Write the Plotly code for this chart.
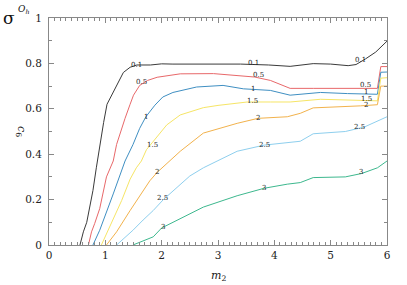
import plotly.graph_objects as go

# contour levels and their colours
levels = ["0.1", "0.5", "1", "1.5", "2", "2.5", "3"]
colors = ["#3a3a3a", "#e8686a", "#3f8fc2", "#f6e566", "#f2b24c", "#8ecfee", "#3db88e"]

# (m2, c6) points per contour
m2_01 = [0.55, 0.61, 0.67, 0.70, 0.78, 0.84, 0.90, 0.97, 1.03, 1.08, 1.20, 1.32, 1.44, 1.56, 1.80, 2.00, 2.20, 2.60, 3.00, 3.40, 3.90, 4.28, 4.69, 5.00, 5.31, 5.45, 5.62, 5.80, 6.00]
c6_01 = [0.00, 0.058, 0.10, 0.14, 0.24, 0.34, 0.44, 0.54, 0.62, 0.645, 0.70, 0.76, 0.783, 0.793, 0.793, 0.798, 0.797, 0.797, 0.797, 0.797, 0.793, 0.787, 0.799, 0.797, 0.790, 0.795, 0.820, 0.850, 0.898]

m2_05 = [0.70, 0.755, 0.81, 0.90, 1.02, 1.14, 1.20, 1.26, 1.35, 1.44, 1.50, 1.61, 1.75, 1.92, 2.33, 2.92, 3.39, 3.65, 3.93, 4.28, 4.70, 5.20, 5.53, 5.83, 5.89, 6.00]
c6_05 = [0.00, 0.058, 0.094, 0.16, 0.30, 0.37, 0.443, 0.49, 0.558, 0.62, 0.66, 0.703, 0.725, 0.739, 0.754, 0.755, 0.747, 0.740, 0.725, 0.690, 0.690, 0.690, 0.690, 0.690, 0.786, 0.786]

m2_1 = [0.78, 0.90, 1.14, 1.35, 1.49, 1.61, 1.72, 1.88, 2.02, 2.20, 2.62, 3.09, 3.45, 3.93, 4.28, 4.82, 5.30, 5.83, 5.89, 6.00]
c6_1 = [0.00, 0.065, 0.225, 0.37, 0.442, 0.514, 0.565, 0.616, 0.652, 0.672, 0.696, 0.703, 0.688, 0.681, 0.660, 0.672, 0.667, 0.664, 0.761, 0.762]

m2_15 = [0.93, 1.08, 1.29, 1.44, 1.55, 1.64, 1.73, 1.83, 2.09, 2.33, 2.74, 3.00, 3.34, 3.52, 3.93, 4.28, 4.82, 5.30, 5.83, 5.89, 6.00]
c6_15 = [0.00, 0.08, 0.196, 0.29, 0.34, 0.37, 0.42, 0.45, 0.529, 0.573, 0.605, 0.615, 0.623, 0.630, 0.630, 0.630, 0.642, 0.640, 0.635, 0.735, 0.737]

m2_2 = [1.02, 1.20, 1.44, 1.79, 1.92, 2.10, 2.33, 2.74, 3.34, 3.71, 4.23, 4.46, 4.69, 5.53, 5.83, 5.89, 6.00]
c6_2 = [0.00, 0.058, 0.152, 0.283, 0.32, 0.36, 0.413, 0.493, 0.536, 0.558, 0.565, 0.580, 0.604, 0.613, 0.618, 0.700, 0.700]

m2_25 = [1.20, 1.49, 1.67, 1.85, 2.03, 2.33, 2.50, 2.74, 3.34, 3.82, 4.23, 4.46, 4.69, 5.26, 5.60, 6.00]
c6_25 = [0.00, 0.065, 0.11, 0.152, 0.20, 0.268, 0.304, 0.34, 0.413, 0.44, 0.449, 0.457, 0.490, 0.500, 0.520, 0.565]

m2_3 = [1.49, 1.85, 2.00, 2.15, 2.50, 2.74, 3.34, 3.82, 4.23, 4.46, 4.69, 5.26, 5.55, 5.83, 6.00]
c6_3 = [0.00, 0.036, 0.075, 0.094, 0.138, 0.167, 0.217, 0.25, 0.268, 0.275, 0.297, 0.300, 0.315, 0.340, 0.370]

xs = [m2_01, m2_05, m2_1, m2_15, m2_2, m2_25, m2_3]
ys = [c6_01, c6_05, c6_1, c6_15, c6_2, c6_25, c6_3]

# contour label positions
lab_text = ["0.1", "0.1", "0.1", "0.5", "0.5", "0.5", "1", "1", "1", "1.5", "1.5", "1.5", "2", "2", "2", "2.5", "2.5", "2.5", "3", "3", "3"]
lab_x = [1.56, 3.63, 5.53, 1.65, 3.71, 5.62, 1.72, 3.62, 5.63, 1.83, 3.62, 5.63, 1.92, 3.71, 5.62, 2.02, 3.82, 5.52, 2.02, 3.82, 5.53]
lab_y = [0.795, 0.800, 0.813, 0.720, 0.749, 0.705, 0.565, 0.688, 0.672, 0.440, 0.633, 0.645, 0.320, 0.558, 0.618, 0.205, 0.440, 0.520, 0.080, 0.250, 0.323]

x_ticks = [0, 1, 2, 3, 4, 5, 6]
y_ticks = [0, 0.2, 0.4, 0.6, 0.8, 1]
y_tick_text = ["0", "0.2", "0.4", "0.6", "0.8", "1"]

serif = "DejaVu Serif"

fig = go.Figure()
for lv, col, x, y in zip(levels, colors, xs, ys):
    fig.add_trace(go.Scatter(x=x, y=y, mode="lines", line=dict(color=col, width=1), name=lv, showlegend=False, hoverinfo="skip"))

for t, x, y in zip(lab_text, lab_x, lab_y):
    fig.add_annotation(x=x, y=y, text=t, showarrow=False, xanchor="center", yanchor="middle",
                       font=dict(family=serif, size=7, color="#222"))

axis_common = dict(showline=True, linecolor="#888", linewidth=1, mirror="allticks",
                   ticks="inside", ticklen=5, tickcolor="#888", tickwidth=1,
                   showgrid=False, zeroline=False,
                   tickfont=dict(family=serif, size=10.5, color="#222"))

fig.update_xaxes(range=[0, 6], tickvals=x_ticks, ticktext=[str(v) for v in x_ticks],
                 minor=dict(ticks="inside", ticklen=3, dtick=0.1, tickcolor="#888", showgrid=False),
                 **axis_common)
fig.update_yaxes(range=[0, 1], tickvals=y_ticks, ticktext=y_tick_text, ticklabelstandoff=4,
                 minor=dict(ticks="inside", ticklen=3, dtick=0.1, tickcolor="#888", showgrid=False),
                 **axis_common)

# axis titles
fig.add_annotation(xref="paper", yref="paper", x=0.5, y=-0.095, text="<i>m</i><sub>2</sub>", showarrow=False,
                   xanchor="center", yanchor="top", font=dict(family=serif, size=11, color="#222"))
fig.add_annotation(xref="paper", yref="paper", x=-0.055, y=0.5, text="<i>c</i><sub>6</sub>", showarrow=False,
                   textangle=90, xanchor="right", yanchor="middle", font=dict(family=serif, size=11, color="#222"))
fig.add_annotation(xref="paper", yref="paper", x=-0.095, y=1.0, text="σ", showarrow=False,
                   xanchor="right", yanchor="middle", font=dict(family=serif, size=17, color="#111"))
fig.add_annotation(xref="paper", yref="paper", x=-0.097, y=1.005, text="<i>O</i><sub><i>h</i></sub>", showarrow=False,
                   xanchor="left", yanchor="bottom", font=dict(family=serif, size=9, color="#111"))

fig.update_layout(width=407, height=285, margin=dict(l=49, r=20, t=15, b=40),
                  paper_bgcolor="white", plot_bgcolor="white")

fig.write_html("out.html", config={"displayModeBar": False},
               post_script="document.body.style.margin='0';")
